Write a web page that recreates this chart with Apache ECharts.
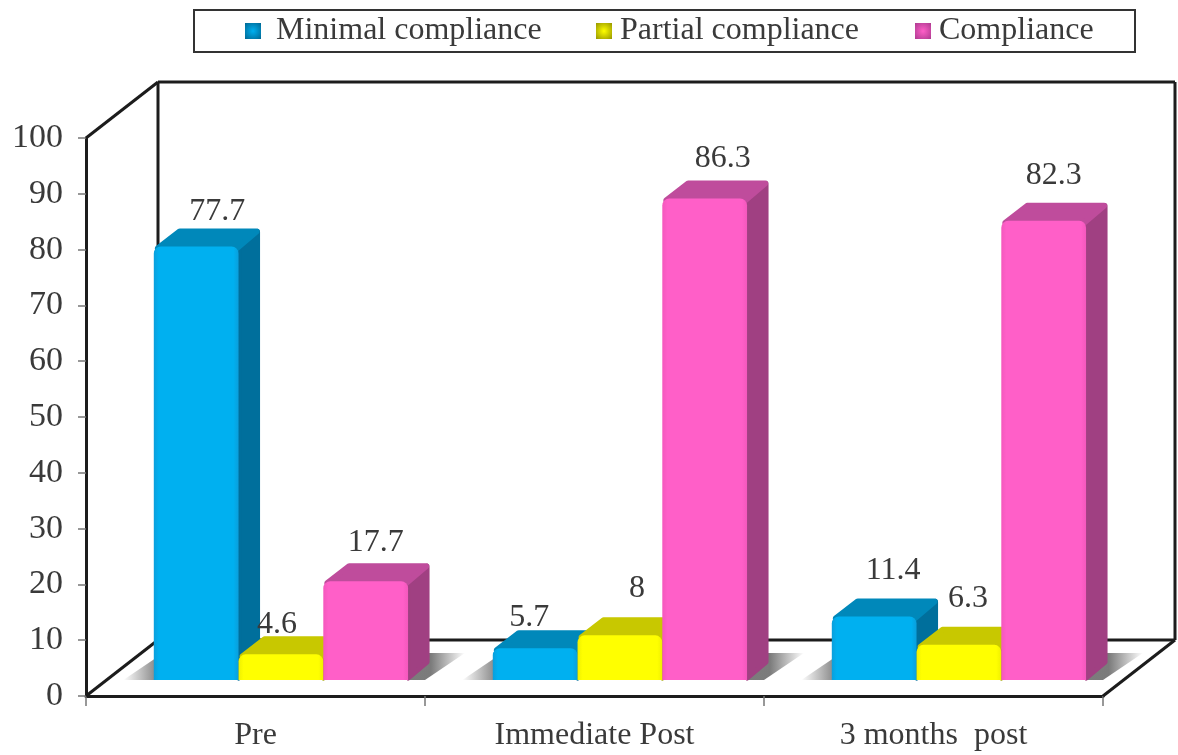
<!DOCTYPE html>
<html><head><meta charset="utf-8">
<style>html,body{margin:0;padding:0;background:#fff}#c{width:1178px;height:755px;filter:blur(0.7px)}</style>
<script src="https://cdn.jsdelivr.net/npm/echarts@6/dist/echarts.min.js"></script>
</head><body><div id="c"></div>
<script>
const categories = ['Pre', 'Immediate Post', '3 months  post'];
const minimal = [77.7, 5.7, 11.4];
const partial = [4.6, 8, 6.3];
const compliance = [17.7, 86.3, 82.3];
const yTicks = [0,10,20,30,40,50,60,70,80,90,100];

const seriesNames = ['Minimal compliance', 'Partial compliance', 'Compliance'];
const FONT = '"Liberation Serif","Times New Roman",serif';
const palette = [
  {front:'#00b0f0', edge:'#0a9fdc', top:'#0088ba', side:'#006f9c', dark:'#00628c'},
  {front:'#ffff00', edge:'#f0f000', top:'#c8c800', side:'#a5a500', dark:'#8f8f00'},
  {front:'#ff5fc8', edge:'#f458bd', top:'#bf4c9c', side:'#a04082', dark:'#a8388c'}
];
const labelNudge = [
  [[21,-35],[-6,-31],[19,-46]],
  [[-4,-30],[17,-47],[9,-46]],
  [[10,-39],[18,-40],[10,-45]]
];
const BASE = 16, DX = 22, DY = 18;

function barRender(si){
  return function(params, api){
    const c = api.value(0), v = api.value(1);
    const band = api.size([1,0])[0];
    const w = band*0.25;
    const top = api.coord([c, v]);
    const zero = api.coord([c, 0]);
    const left = zero[0] + band*0.075 + (si-1.5)*w;
    const by = zero[1]-BASE, ty = top[1]-BASE;
    const p = palette[si];
    const right = left+w;
    const kids = [];
    kids.push({type:'polygon',shape:{points:[[right,ty+2],[right+DX-3,ty-DY+3],[right+DX-3,by-DY],[right,by-2]]},
      style:{fill:p.side,stroke:p.side,lineWidth:5,lineJoin:'round'}});
    kids.push({type:'polygon',shape:{points:[[left+4,ty+2],[left+DX+4,ty-DY+3],[right+DX-4,ty-DY+3],[right-2,ty+2]]},
      style:{fill:p.top,stroke:p.top,lineWidth:6,lineJoin:'round'}});
    kids.push({type:'rect',shape:{x:left,y:ty,width:w,height:by-ty,r:[7,7,0,0]},
      style:{fill:{type:'linear',x:0,y:0,x2:1,y2:0,colorStops:[
        {offset:0,color:p.edge},{offset:0.06,color:p.front},{offset:0.94,color:p.front},{offset:1,color:p.edge}]}}});
    const n = labelNudge[si][params.dataIndex];
    kids.push({type:'text',z2:50,style:{text:String(v),x:left+w/2+n[0],y:ty+n[1],
      font:'32px '+FONT,fill:'#3a3a3a',align:'center',verticalAlign:'middle',textAlign:'center',textVerticalAlign:'middle'}});
    return {type:'group',children:kids};
  };
}

function frameRender(params, api){
  const g = params.coordSys;
  const x0=g.x, x1=g.x+g.width, y0=g.y, y1=g.y+g.height;
  const bx=72, by=56;
  const ln=(a,b,c,d,w)=>({type:'line',shape:{x1:a,y1:b,x2:c,y2:d},style:{stroke:'#1c1c1c',lineWidth:w||3}});
  return {type:'group',children:[
    ln(x0,y0,x0+bx,y0-by),
    ln(x0+bx,y0-by,x1+bx,y0-by),
    ln(x1+bx,y0-by,x1+bx,y1-by),
    ln(x0+bx,y0-by,x0+bx,y1-by),
    ln(x0+bx,y1-by,x1+bx,y1-by),
    ln(x0,y1,x0+bx,y1-by),
    ln(x1,y1,x1+bx,y1-by)
  ]};
}

function shadowRender(params, api){
  const c = api.value(0);
  const band = api.size([1,0])[0];
  const zero = api.coord([c,0]);
  const l = zero[0]-band*0.39, r = zero[0]+band*0.5, yb = zero[1]-BASE, yt = yb-27;
  return {type:'polygon',shape:{points:[[l,yb],[l+40,yt],[r+40,yt],[r,yb]]},
    style:{fill:{type:'linear',x:0,y:0,x2:1,y2:0,colorStops:[
      {offset:0,color:'rgba(100,100,100,0)'},{offset:0.1,color:'rgba(100,100,100,.8)'},
      {offset:0.9,color:'rgba(100,100,100,.85)'},{offset:1,color:'rgba(100,100,100,0)'}]}}};
}

const rows = [minimal, partial, compliance];
const makeData = arr => arr.map((v,i)=>[i,v]);
const legendText = {fontFamily:FONT,fontSize:32,color:'#3a3a3a'};
const legendIcon = si => ({type:'radial',x:0.5,y:0.5,r:0.75,colorStops:[
  {offset:0,color:palette[si].front},{offset:1,color:palette[si].dark}]});
const legendEntry = (si,left,gap) => ({
  data:[{name:seriesNames[si],itemStyle:{color:legendIcon(si)}}],
  left,top:15,padding:0,itemWidth:16,itemHeight:16,icon:'rect',
  textStyle:{...legendText,padding:[0,0,0,gap]}
});

const option = {
  animation:false,
  backgroundColor:'#fff',
  grid:{left:86,right:75,top:138,bottom:59,containLabel:false},
  legend:[legendEntry(0,245,10),legendEntry(1,596,3),legendEntry(2,915,3)],
  graphic:[{type:'rect',shape:{x:194,y:10,width:941,height:42},style:{fill:'none',stroke:'#333',lineWidth:2},z:-1}],
  xAxis:{type:'category',data:categories,
    axisLine:{lineStyle:{color:'#1c1c1c',width:3}},
    axisTick:{show:true,alignWithLabel:false,length:10,lineStyle:{color:'#777',width:1.5}},
    axisLabel:{fontFamily:FONT,fontSize:32,color:'#3a3a3a',margin:24},
    splitLine:{show:false}},
  yAxis:{type:'value',min:0,max:100,interval:10,
    axisLine:{show:true,lineStyle:{color:'#1c1c1c',width:3}},
    axisTick:{show:true,length:8,lineStyle:{color:'#777',width:1.5}},
    axisLabel:{fontFamily:FONT,fontSize:34,color:'#3a3a3a',margin:23,customValues:yTicks},
    splitLine:{show:false}},
  series:[
    {type:'custom',name:'frame',silent:true,coordinateSystem:'cartesian2d',clip:false,z:1,renderItem:frameRender,data:[[0,0]],encode:{x:0,y:1}},
    {type:'custom',name:'shadow',silent:true,coordinateSystem:'cartesian2d',clip:false,z:2,renderItem:shadowRender,data:makeData(minimal),encode:{x:0,y:1}},
    ...seriesNames.map((nm,si)=>({
      type:'custom',name:nm,coordinateSystem:'cartesian2d',clip:false,z:3+si,
      itemStyle:{color:palette[si].front},
      renderItem:barRender(si),data:makeData(rows[si]),encode:{x:0,y:1}
    }))
  ]
};
const chart = echarts.init(document.getElementById('c'),null,{renderer:'canvas',width:1178,height:755});
chart.setOption(option);
</script></body></html>
